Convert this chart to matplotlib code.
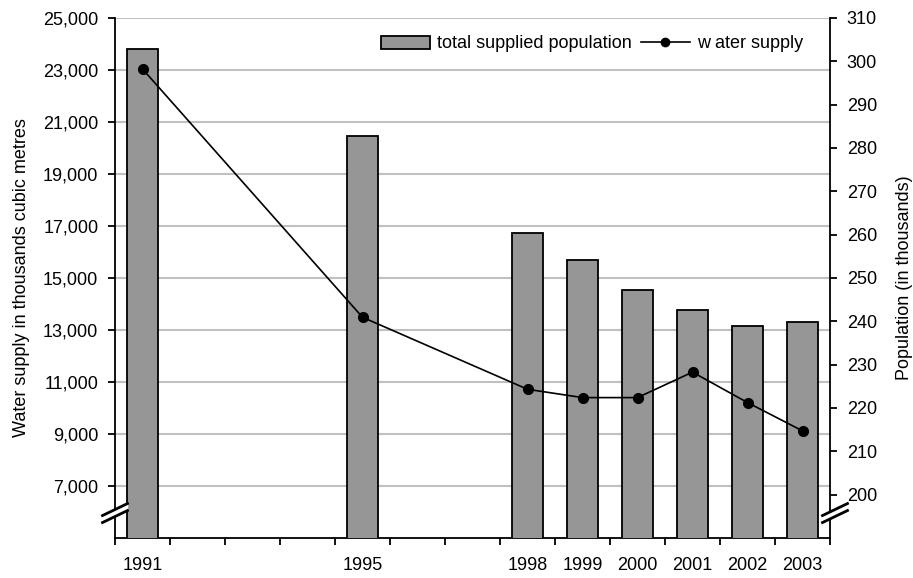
import matplotlib
matplotlib.use("Agg")
import matplotlib.pyplot as plt
from matplotlib.patches import Patch
from matplotlib.lines import Line2D

# values
years = [1991, 1995, 1998, 1999, 2000, 2001, 2002, 2003]
population = [302.8, 282.8, 260.5, 254.2, 247.3, 242.6, 239.0, 239.8]
water = [23040, 13490, 10720, 10400, 10400, 11380, 10210, 9120]

left_ticks = list(range(7000, 25001, 2000))
right_ticks = list(range(200, 311, 10))

plt.rcParams['font.family'] = ['Liberation Sans', 'DejaVu Sans']
plt.rcParams['font.size'] = 13

fig = plt.figure(figsize=(9.13, 5.78), dpi=100)
pos = [115 / 913, 40 / 578, 715 / 913, 520 / 578]

# left axis : water supply (grid lives here, drawn behind everything)
ax = fig.add_axes(pos)
ax.set_xlim(1990.5, 2003.5)
ax.set_ylim(5000, 25000)
ax.set_yticks(left_ticks)
ax.set_yticklabels([f"{v:,}" for v in left_ticks])
ax.yaxis.grid(True, color='#c0c0c0', lw=1.5)
ax.set_axisbelow(True)
ax.set_ylabel('Water supply in thousands cubic metres', labelpad=9)
ax.set_xticks([y - 0.5 for y in range(1991, 2005)])
ax.set_xticklabels([])
ax.set_xticks(years, minor=True)
ax.set_xticklabels([str(y) for y in years], minor=True)
ax.tick_params(axis='x', which='major', direction='out', length=5, width=1.3)
ax.tick_params(axis='x', which='minor', length=0, pad=14)
ax.tick_params(axis='y', direction='out', length=5, width=1.3, pad=7)
for s in ['top', 'right']:
    ax.spines[s].set_visible(False)
for s in ['left', 'bottom']:
    ax.spines[s].set_linewidth(1.3)

# right axis : population bars
ax2 = ax.twinx()
ax2.bar(years, population, width=0.57, color='#969696', edgecolor='black', lw=1.3)
ax2.set_ylim(190, 310)
ax2.set_yticks(right_ticks)
ax2.set_ylabel('Population (in thousands)', labelpad=14)
ax2.tick_params(axis='y', direction='out', length=5, width=1.3, pad=7)
for s in ['top', 'left', 'bottom']:
    ax2.spines[s].set_visible(False)
ax2.spines['right'].set_linewidth(1.3)

# line on top of the bars, same scale as the left axis
ax3 = fig.add_axes(pos, sharex=ax, sharey=ax)
ax3.axis('off')
ax3.plot(years, water, color='black', lw=1.2, marker='o', markersize=7)

# axis break marks
w, h = 715.0, 520.0
for x0, shift in [(0.0, 0.0), (1.0, 5.0)]:
    xc = x0 + shift / w
    yc = 0.048
    dx, dy, g = 12.5 / w, 6.0 / h, 3.5 / h
    ax3.fill([xc - dx, xc + dx, xc + dx, xc - dx],
             [yc - dy - g, yc + dy - g, yc + dy + g, yc - dy + g],
             color='white', transform=ax3.transAxes, clip_on=False, zorder=5)
    for off in (-g, g):
        ax3.plot([xc - dx, xc + dx], [yc - dy + off, yc + dy + off], color='black',
                 lw=2, transform=ax3.transAxes, clip_on=False, zorder=6)

handles = [Patch(facecolor='#969696', edgecolor='black', lw=1.3),
           Line2D([], [], color='black', lw=1.2, marker='o', markersize=6)]
ax3.legend(handles, ['total supplied population', 'w ater supply'], ncol=2,
           frameon=False, loc='center right', bbox_to_anchor=(0.985, 0.95),
           handlelength=2.7, handletextpad=0.4, columnspacing=0.5, fontsize=13)

fig.savefig('out.png', dpi=100)
